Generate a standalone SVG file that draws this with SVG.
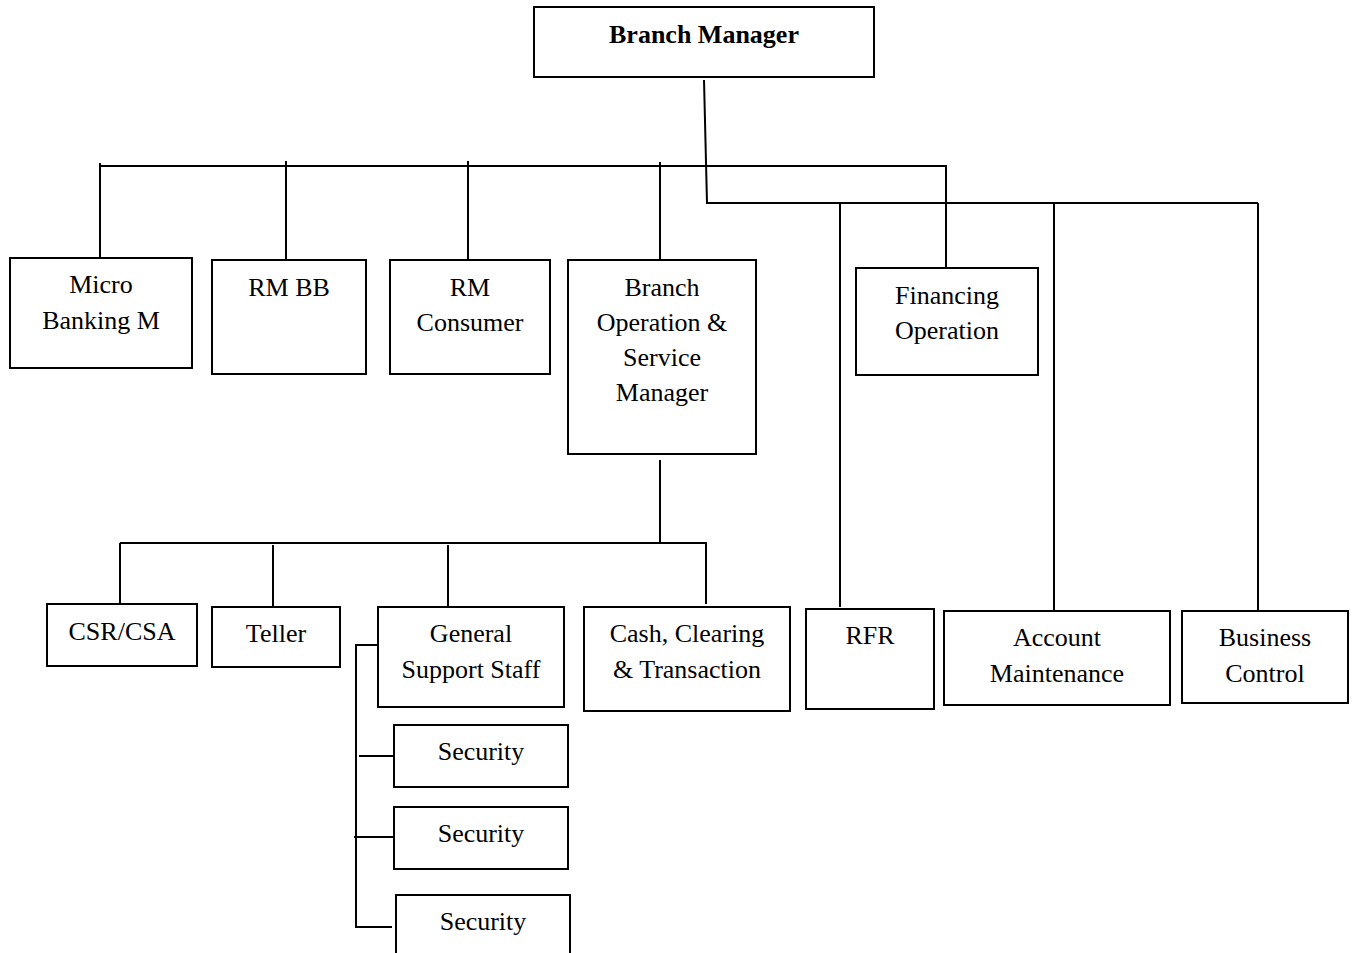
<svg xmlns="http://www.w3.org/2000/svg" width="1355" height="953" viewBox="0 0 1355 953">
<style>
.box{fill:#fff;stroke:#000;stroke-width:2}
.t{font-family:'Liberation Serif',Tinos,Times,'DejaVu Serif',serif;font-size:26px;text-anchor:middle;fill:#000}
.b{font-weight:bold}
.c{fill:none;stroke:#000;stroke-width:2}
</style>
<rect width="1355" height="953" fill="#fff"/>
<g id="connectors">
<path class="c" d="M704 80 L707 203 L1258 203 M840 203 V607 M1054 203 V611 M1258 203 V611"/>
<path class="c" d="M100 166 H946 V268 M100 163 V258 M286 161 V260 M468 161 V260 M660 162 V260"/>
<path class="c" d="M660 460 V543 M120 543 H706 V604 M120 543 V604 M273 545 V607 M448 545 V607"/>
<path class="c" d="M380 645 H356 V927 H392 M359 756 H394 M354 837 H394"/>
</g>
<g id="branch-manager"><rect class="box" x="534" y="7" width="340" height="70"/><text class="t b" x="704" y="43">Branch Manager</text></g>
<g id="micro-banking"><rect class="box" x="10" y="258" width="182" height="110"/><text class="t" x="101" y="293">Micro</text><text class="t" x="101" y="329">Banking M</text></g>
<g id="rm-bb"><rect class="box" x="212" y="260" width="154" height="114"/><text class="t" x="289" y="296">RM BB</text></g>
<g id="rm-consumer"><rect class="box" x="390" y="260" width="160" height="114"/><text class="t" x="470" y="296">RM</text><text class="t" x="470" y="331">Consumer</text></g>
<g id="branch-operation"><rect class="box" x="568" y="260" width="188" height="194"/><text class="t" x="662" y="296">Branch</text><text class="t" x="662" y="331">Operation &amp;</text><text class="t" x="662" y="366">Service</text><text class="t" x="662" y="401">Manager</text></g>
<g id="financing-operation"><rect class="box" x="856" y="268" width="182" height="107"/><text class="t" x="947" y="304">Financing</text><text class="t" x="947" y="339">Operation</text></g>
<g id="csr-csa"><rect class="box" x="47" y="604" width="150" height="62"/><text class="t" x="122" y="640">CSR/CSA</text></g>
<g id="teller"><rect class="box" x="212" y="607" width="128" height="60"/><text class="t" x="276" y="642">Teller</text></g>
<g id="general-support"><rect class="box" x="378" y="607" width="186" height="100"/><text class="t" x="471" y="642">General</text><text class="t" x="471" y="678">Support Staff</text></g>
<g id="cash-clearing"><rect class="box" x="584" y="607" width="206" height="104"/><text class="t" x="687" y="642">Cash, Clearing</text><text class="t" x="687" y="678">&amp; Transaction</text></g>
<g id="rfr"><rect class="box" x="806" y="609" width="128" height="100"/><text class="t" x="870" y="644">RFR</text></g>
<g id="account-maintenance"><rect class="box" x="944" y="611" width="226" height="94"/><text class="t" x="1057" y="646">Account</text><text class="t" x="1057" y="682">Maintenance</text></g>
<g id="business-control"><rect class="box" x="1182" y="611" width="166" height="92"/><text class="t" x="1265" y="646">Business</text><text class="t" x="1265" y="682">Control</text></g>
<g id="security-1"><rect class="box" x="394" y="725" width="174" height="62"/><text class="t" x="481" y="760">Security</text></g>
<g id="security-2"><rect class="box" x="394" y="807" width="174" height="62"/><text class="t" x="481" y="842">Security</text></g>
<g id="security-3"><rect class="box" x="396" y="895" width="174" height="70"/><text class="t" x="483" y="930">Security</text></g>
</svg>
